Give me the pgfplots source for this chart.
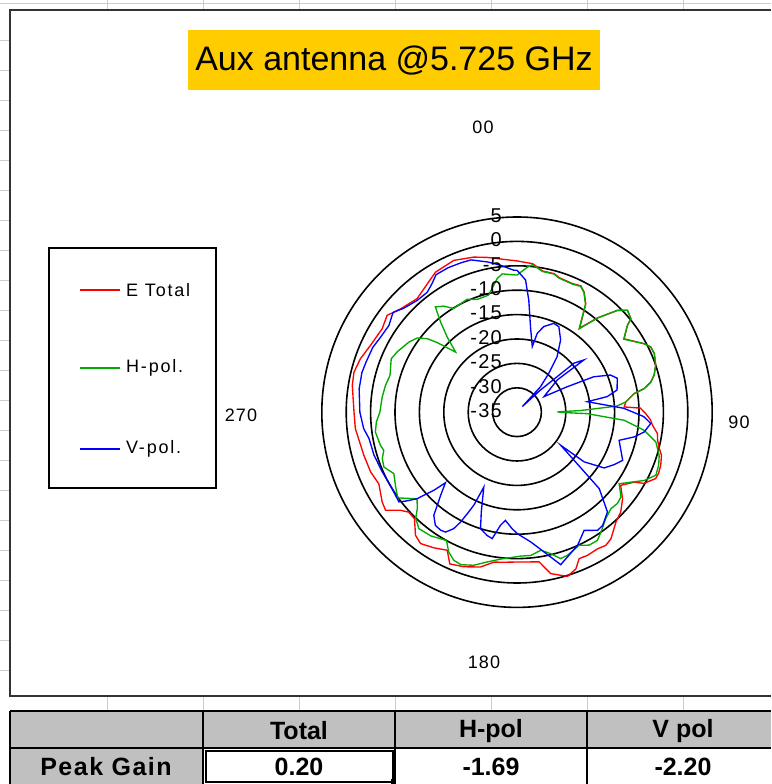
\documentclass[border=0pt]{standalone}
\usepackage{fontspec}
\setmainfont{Liberation Sans}
\newfontfamily\lsp[LetterSpace=6]{Liberation Sans}
\newfontfamily\lspw[LetterSpace=10]{Liberation Sans}
\usepackage{pgfplots}
\usepgfplotslibrary{polar}
\pgfplotsset{compat=1.18}
\usepackage{pgfplotstable}
\definecolor{ttl}{RGB}{255,204,0}
\definecolor{cgreen}{RGB}{0,170,0}
\definecolor{cblue}{RGB}{0,0,255}
\definecolor{cred}{RGB}{255,0,0}
\definecolor{tgray}{RGB}{192,192,192}
\definecolor{lgray}{RGB}{205,205,205}

\pgfplotstableread{
a v
0 -4.0
6.0 -4.4
10.3 -5.6
15.0 -5.6
17.4 -6.1
23.4 -6.3
26.8 -6.0
29.2 -6.8
32.4 -8.7
33.4 -10.0
36.7 -13.5
40.5 -9.6
44.6 -5.7
47.3 -4.2
50.6 -4.8
51.8 -6.2
55.6 -8.4
61.7 -5.4
64.0 -4.5
66.9 -4.4
71.3 -5.0
74.9 -5.9
77.3 -6.9
79.5 -8.5
81.0 -10.7
84.6 -12.6
87.2 -13.0
88.1 -9.7
90.7 -8.6
93.3 -7.6
95.5 -7.1
98.6 -5.9
100.7 -5.7
103.7 -5.1
106.6 -4.1
110.3 -3.6
113.3 -3.4
115.6 -3.5
119.3 -5.2
120.8 -7.0
125.2 -9.0
129.4 -7.0
133.9 -5.5
138.0 -4.7
143.4 -2.7
146.3 -2.2
149.5 -2.5
153.8 -2.3
157.0 -2.4
159.4 -0.7
162.9 0.2
168.2 -1.2
171.6 -4.0
175.0 -4.2
179.8 -4.3
183.7 -4.2
188.8 -3.9
193.3 -2.4
199.0 -1.5
203.9 -1.0
206.8 -3.3
211.5 -2.4
216.3 -1.6
219.5 -2.3
223.9 -4.7
227.3 -4.8
229.9 -3.8
233.3 -1.4
236.3 -1.8
242.6 -3.1
247.8 -2.6
254.3 -2.4
264.2 -1.7
270.0 -1.6
279.3 -0.8
283.8 -0.6
288.9 -1.1
294.5 -2.0
301.8 -2.5
306.7 -1.8
311.6 -3.1
318.7 -4.0
325.1 -2.9
329.8 -1.8
337.4 -1.3
344.4 -2.0
349.1 -2.7
360 -4.0
}\etot

\pgfplotstableread{
a v
0 -6.9
4.1 -5.2
6.0 -4.6
10.3 -5.7
15.0 -5.7
17.4 -6.2
23.4 -6.4
26.8 -6.1
29.2 -6.9
32.4 -8.8
33.4 -10.1
36.7 -13.7
40.5 -9.6
44.6 -5.7
47.3 -4.2
50.6 -4.8
51.8 -6.2
55.6 -8.5
61.7 -5.4
64.0 -4.5
66.9 -4.4
71.3 -5.0
74.9 -5.9
77.3 -6.9
79.5 -8.5
81.0 -10.7
84.6 -12.6
86.5 -14.5
88.5 -22.0
89.6 -26.7
90.5 -25.0
91.2 -20.6
94.3 -13.0
98.1 -8.7
102.1 -5.9
106.9 -4.55
110.5 -4.0
114.4 -3.75
118.2 -5.4
125.0 -9.45
129.2 -7.5
132.3 -7.2
135.8 -7.4
140.2 -6.6
145.0 -5.0
147.9 -4.0
151.5 -4.0
155.0 -4.9
160.6 -3.9
163.4 -3.7
166.6 -5.2
170.2 -6.3
174.5 -5.5
178.6 -5.5
186.4 -4.7
191.3 -3.7
195.8 -2.4
200.2 -1.7
203.1 -2.0
206.0 -3.1
208.8 -5.0
214.9 -4.1
220.1 -3.8
223.6 -4.9
226.0 -6.6
229.1 -7.9
234.3 -4.9
238.4 -5.8
243.5 -6.8
247.6 -5.5
251.0 -5.8
254.0 -6.6
256.4 -6.2
262.0 -5.7
266.0 -6.1
270.0 -6.9
276.4 -7.2
281.6 -7.5
286.2 -7.9
293.0 -7.0
296.7 -7.5
303.0 -8.6
306.6 -9.5
309.3 -11.2
311.1 -13.3
314.4 -17.4
317.1 -14.0
319.7 -10.8
322.2 -7.7
325.4 -8.6
328.6 -10.1
336.2 -9.7
340.6 -10.5
346.4 -10.3
351.6 -7.3
353.9 -6.5
360 -6.9
}\hpol

\pgfplotstableread{
a v
0 -5.9
3.7 -7.85
6.0 -11.9
9.0 -17.3
13.1 -21.2
14.4 -18.3
17.4 -16.6
22.5 -15.3
26.1 -15.5
31.1 -17.7
35.9 -21.0
39.3 -24.7
42.7 -27.9
43.4 -33.4
46.6 -28.4
49.3 -19.6
52.0 -17.6
51.3 -24.4
60.0 -28.6
63.1 -23.5
65.2 -17.7
68.3 -14.4
71.3 -13.3
77.5 -14.0
80.2 -16.25
81.5 -20.45
87.9 -13.1
92.0 -9.0
94.8 -7.5
98.8 -8.6
101.9 -10.45
105.4 -13.3
114.5 -11.2
118.4 -12.4
122.6 -13.8
126.5 -17.9
127.1 -23.75
132.9 -12.0
137.8 -7.4
142.9 -5.9
145.7 -5.7
150.4 -7.15
155.6 -5.0
164.0 -2.5
169.0 -5.8
173.9 -8.25
179.8 -10.1
182.4 -11.1
186.1 -12.7
188.3 -11.6
191.1 -8.6
193.6 -9.0
197.4 -10.0
199.7 -13.3
203.9 -18.2
204.9 -14.0
206.1 -11.8
207.2 -9.7
208.5 -7.85
210.8 -6.4
212.9 -6.2
215.8 -6.4
218.9 -7.85
220.6 -9.9
222.6 -11.9
225.4 -14.4
226.8 -11.6
228.3 -9.4
229.1 -7.9
231.4 -5.8
232.8 -4.6
238.5 -5.0
246.1 -4.8
253.3 -4.4
259.9 -4.2
263.9 -3.4
270.0 -2.8
278.4 -2.3
284.3 -2.2
288.3 -2.4
294.2 -2.6
298.9 -3.1
304.1 -3.3
308.8 -2.4
312.6 -3.5
318.3 -4.3
323.2 -4.3
326.6 -3.4
329.5 -2.3
334.5 -2.2
339.5 -2.3
343.2 -2.4
348.8 -3.6
353.6 -4.7
358.7 -5.9
360 -5.9
}\vpol

\begin{document}
\begin{tikzpicture}[x=1pt,y=1pt]
\path[use as bounding box] (0,0) rectangle (771,784);
\fill[white] (0,0) rectangle (771,784);
% spreadsheet grid around the chart
\draw[lgray, line width=0.8pt] (0,781) -- (771,781);
\foreach \x in {107,203,299,395,491,587,683} \draw[lgray, line width=0.8pt] (\x,784) -- (\x,774);
\foreach \y in {40,70,100,130,160,190,220,250,280,310,340,370,400,430,460,490,520,550,580,610,640,670} \draw[lgray, line width=0.8pt] (0,784-\y) -- (10,784-\y);
% chart frame
\draw[black!80, line width=1.8pt] (771,774) -- (10,774) -- (10,88) -- (771,88);
% title
\fill[ttl] (188,754) rectangle (600,694);
\node[font=\fontsize{34}{36}\selectfont] at (394,723.5) {Aux antenna @5.725 GHz};

\begin{polaraxis}[
  at={(517pt,371.8pt)}, anchor=origin,
  scale only axis, width=390.4pt, height=390.4pt,
  xmin=0, xmax=360, ymin=0, ymax=40,
  xtick=\empty,
  ytick={5,10,15,20,25,30,35},
  yticklabels={},
  yticklabel style={opacity=0},
  ytick style={draw=none},
  y axis line style={draw=none},
  major tick length=0pt,
  ymajorgrids,
  grid style={black, line width=1.6pt},
  axis line style={black, line width=1.6pt},
  clip=false,
]
\addplot[cred, line width=1.35pt, no markers] table[x expr=90-\thisrow{a}, y expr=\thisrow{v}+35] {\etot};
\addplot[cgreen, line width=1.35pt, no markers] table[x expr=90-\thisrow{a}, y expr=\thisrow{v}+35] {\hpol};
\addplot[cblue, line width=1.35pt, no markers] table[x expr=90-\thisrow{a}, y expr=\thisrow{v}+35] {\vpol};
\begin{scope}[every node/.style={anchor=east, inner sep=0pt, xshift=-15pt, yshift=1.5pt, font=\lsp\fontsize{20}{20}\selectfont}]
\node at (axis cs:90,40) {5};
\node at (axis cs:90,35) {0};
\node at (axis cs:90,30) {-5};
\node at (axis cs:90,25) {-10};
\node at (axis cs:90,20) {-15};
\node at (axis cs:90,15) {-20};
\node at (axis cs:90,10) {-25};
\node at (axis cs:90,5) {-30};
\node at (axis cs:90,0) {-35};
\end{scope}
\end{polaraxis}

% angle labels
\begin{scope}[every node/.style={font=\lsp\fontsize{18}{18}\selectfont, inner sep=0pt}]
\node at (483,657) {00};
\node at (739,362) {90};
\node at (484,122) {180};
\node at (241,369) {270};
\end{scope}

% legend
\draw[black, line width=1.5pt] (49,536) rectangle (216,296);
\draw[cred, line width=1.35pt] (80,494) -- (120,494);
\draw[cgreen, line width=1.35pt] (80,416) -- (120,416);
\draw[cblue, line width=1.35pt] (80,335) -- (120,335);
\begin{scope}[every node/.style={anchor=west, inner sep=0pt, font=\lspw\fontsize{18}{18}\selectfont}]
\node at (126,494) {E Total};
\node at (126,416) {H-pol.};
\node at (126,335) {V-pol.};
\end{scope}

% table
\foreach \x in {107,203,299,395,491,587,683} \draw[lgray, line width=0.8pt] (\x,87) -- (\x,73);
\fill[tgray] (10,73) rectangle (771,36);
\fill[tgray] (10,36) rectangle (203,0);
\draw[black, line width=1.6pt] (10,73) -- (771,73);
\draw[black, line width=1.6pt] (10,36) -- (771,36);
\foreach \x in {10,203,395,587} \draw[black, line width=1.4pt] (\x,73) -- (\x,0);
\draw[black, line width=2.2pt] (206,33) rectangle (393,2);
\fill[black] (391,0) rectangle (396,5);
\begin{scope}[every node/.style={font=\bfseries\fontsize{25}{25}\selectfont}]
\node at (299,53) {Total};
\node at (491,53) {H-pol};
\node at (683,53) {V pol};
\node at (299,17) {0.20};
\node at (491,17) {-1.69};
\node at (683,17) {-2.20};
\node[font=\lsp\bfseries\fontsize{25}{25}\selectfont] at (106,17) {Peak Gain};
\end{scope}
\end{tikzpicture}
\end{document}
